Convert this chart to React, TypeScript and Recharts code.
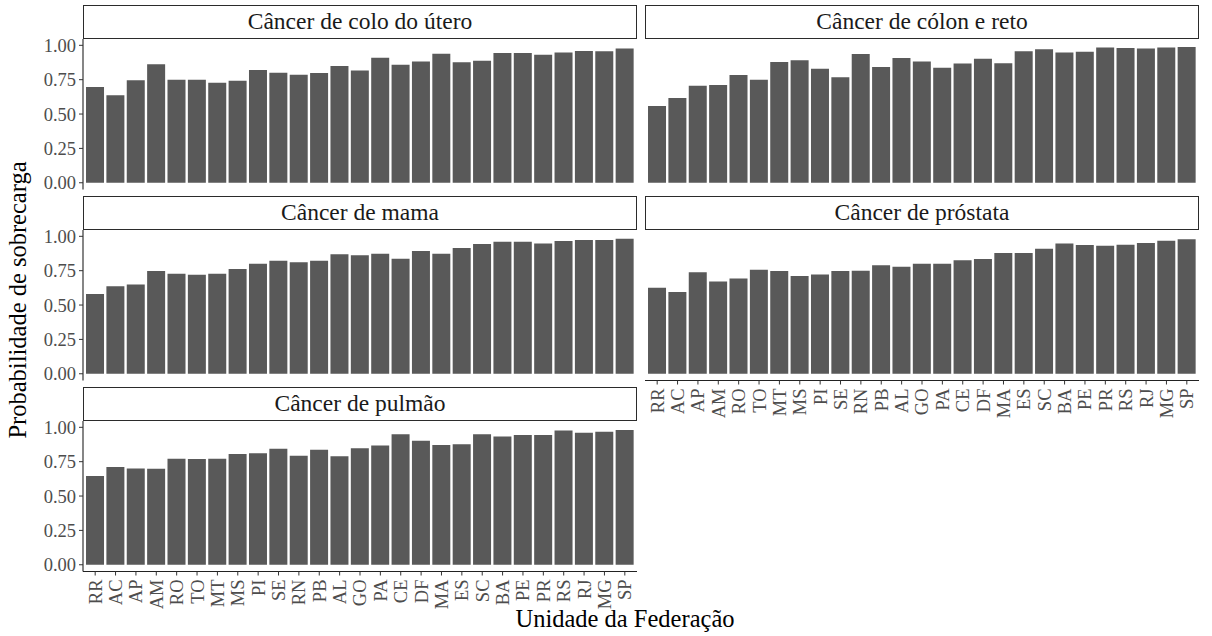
import { Bar, BarChart, XAxis, YAxis } from "recharts";

const ufs = [
  "RR", "AC", "AP", "AM", "RO", "TO", "MT", "MS", "PI", "SE", "RN", "PB", "AL", "GO",
  "PA", "CE", "DF", "MA", "ES", "SC", "BA", "PE", "PR", "RS", "RJ", "MG", "SP",
];

const coloUtero = [
  0.697, 0.636, 0.745, 0.862, 0.75, 0.75, 0.728, 0.743, 0.82, 0.801, 0.786, 0.799, 0.85, 0.816,
  0.91, 0.859, 0.883, 0.939, 0.876, 0.888, 0.944, 0.944, 0.932, 0.947, 0.959, 0.956, 0.976,
];

const colonReto = [
  0.558, 0.617, 0.706, 0.711, 0.784, 0.75, 0.879, 0.891, 0.83, 0.767, 0.937, 0.842, 0.908, 0.883,
  0.837, 0.867, 0.903, 0.869, 0.956, 0.971, 0.947, 0.954, 0.985, 0.981, 0.976, 0.985, 0.988,
];

const mama = [
  0.58, 0.636, 0.65, 0.748, 0.728, 0.721, 0.728, 0.762, 0.801, 0.823, 0.811, 0.823, 0.869, 0.862,
  0.874, 0.837, 0.893, 0.874, 0.915, 0.944, 0.961, 0.961, 0.947, 0.966, 0.973, 0.973, 0.983,
];

const prostata = [
  0.626, 0.595, 0.738, 0.672, 0.694, 0.757, 0.748, 0.711, 0.723, 0.748, 0.75, 0.789, 0.779, 0.801,
  0.801, 0.825, 0.835, 0.879, 0.879, 0.91, 0.947, 0.937, 0.932, 0.939, 0.951, 0.968, 0.978,
];

const pulmao = [
  0.646, 0.711, 0.701, 0.699, 0.772, 0.769, 0.772, 0.806, 0.811, 0.845, 0.794, 0.837, 0.789, 0.847,
  0.867, 0.949, 0.903, 0.871, 0.876, 0.949, 0.934, 0.944, 0.944, 0.976, 0.961, 0.968, 0.981,
];

const yTicks = [0, 0.25, 0.5, 0.75, 1];

const FONT = '"Liberation Serif", "Times New Roman", serif';
const ROW_TOP = [5, 196, 387];
const STRIP_H = 33.5;
const PLOT_H = 150.5;
const COL_X = [83, 645];
const PANEL_W = 554;
const PAD = 12;
const Y_W = 83;

const XTick = (props: any) => {
  const { x, y, payload } = props;
  return (
    <text
      x={x}
      y={y}
      transform={`rotate(-90 ${x} ${y})`}
      textAnchor="end"
      dy="0.35em"
      fill="#4d4d4d"
      fontSize={18.5}
      fontFamily={FONT}
    >
      {payload.value}
    </text>
  );
};

type PanelProps = {
  title: string;
  values: number[];
  row: number;
  col: number;
  showY: boolean;
  showX: boolean;
};

function Panel({ title, values, row, col, showY, showX }: PanelProps) {
  const data = ufs.map((uf, i) => ({ uf, v: values[i] }));
  const plotTop = ROW_TOP[row] + STRIP_H;
  const left = showY ? COL_X[col] - Y_W : COL_X[col];
  const width = PANEL_W + (showY ? Y_W : 0);
  const xh = showX ? 60 : 0;
  const bottom = showX ? 0 : PAD;
  return (
    <>
      <div style={{ position: "absolute", left, top: plotTop - PAD }}>
        <BarChart
          width={width}
          height={PLOT_H + PAD + xh + bottom}
          data={data}
          margin={{ top: PAD, right: 0, bottom, left: 0 }}
          barCategoryGap="5%"
        >
          <XAxis
            dataKey="uf"
            hide={!showX}
            height={xh}
            interval={0}
            padding={{ left: 2, right: 2 }}
            axisLine={{ stroke: "#222", strokeWidth: 1.1 }}
            tickLine={{ stroke: "#333" }}
            tickSize={4}
            tickMargin={4}
            tick={<XTick />}
          />
          <YAxis
            hide={!showY}
            width={Y_W}
            domain={[-0.049, 1.046]}
            allowDataOverflow
            ticks={yTicks}
            interval={0}
            tickFormatter={(v: number) => v.toFixed(2)}
            axisLine={{ stroke: "#222", strokeWidth: 1.1 }}
            tickLine={{ stroke: "#333" }}
            tickSize={4}
            tickMargin={3}
            tick={{ fill: "#4d4d4d", fontSize: 18.5, fontFamily: FONT }}
          />
          <Bar dataKey="v" fill="#595959" isAnimationActive={false} />
        </BarChart>
      </div>
      <div
        style={{
          position: "absolute",
          left: COL_X[col],
          top: ROW_TOP[row],
          width: PANEL_W,
          height: STRIP_H,
          boxSizing: "border-box",
          border: "1.5px solid #2b2b2b",
          background: "#fff",
          display: "flex",
          alignItems: "center",
          justifyContent: "center",
          fontFamily: FONT,
          fontSize: 23.5,
          color: "#1a1a1a",
        }}
      >
        {title}
      </div>
    </>
  );
}

export default function App() {
  return (
    <div
      style={{
        position: "absolute",
        left: 0,
        top: 0,
        width: 1212,
        height: 636,
        background: "#fff",
        overflow: "hidden",
      }}
    >
      <Panel title="Câncer de colo do útero" values={coloUtero} row={0} col={0} showY showX={false} />
      <Panel title="Câncer de cólon e reto" values={colonReto} row={0} col={1} showY={false} showX={false} />
      <Panel title="Câncer de mama" values={mama} row={1} col={0} showY showX={false} />
      <Panel title="Câncer de próstata" values={prostata} row={1} col={1} showY={false} showX />
      <Panel title="Câncer de pulmão" values={pulmao} row={2} col={0} showY showX />
      <svg
        width={1212}
        height={636}
        style={{ position: "absolute", left: 0, top: 0, pointerEvents: "none" }}
      >
        <text x={625} y={627} textAnchor="middle" fontFamily={FONT} fontSize={24.5} fill="#000">
          Unidade da Federação
        </text>
        <text
          x={0}
          y={0}
          transform="translate(26 300) rotate(-90)"
          textAnchor="middle"
          fontFamily={FONT}
          fontSize={24.5}
          fill="#000"
        >
          Probabilidade de sobrecarga
        </text>
      </svg>
    </div>
  );
}
